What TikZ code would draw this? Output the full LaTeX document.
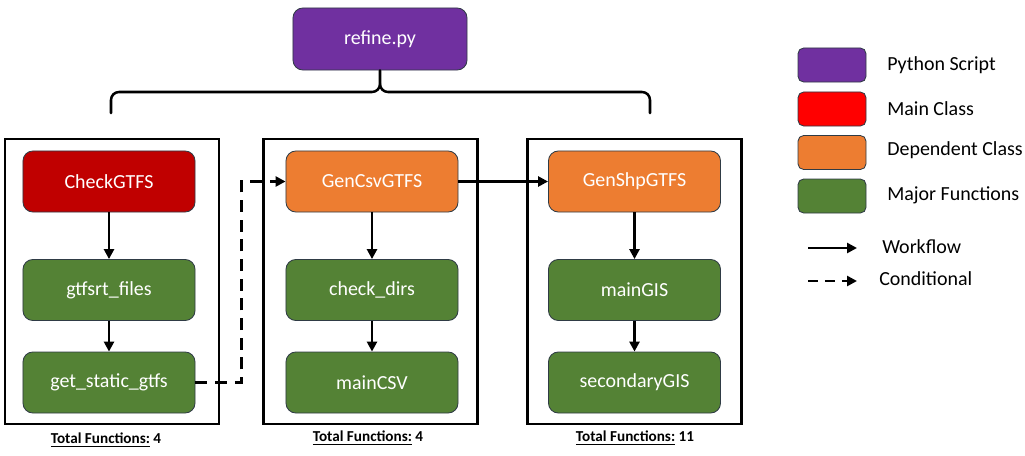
\documentclass[tikz,border=0pt]{standalone}
\usepackage{fontspec}
\setmainfont{Carlito}
\usetikzlibrary{arrows.meta,positioning}
\definecolor{pyviolet}{HTML}{7030A0}
\definecolor{mainred}{HTML}{C00000}
\definecolor{legred}{HTML}{FF0000}
\definecolor{deporange}{HTML}{ED7D31}
\definecolor{funcgreen}{HTML}{548235}
\definecolor{edgegrey}{HTML}{2F3B45}
\tikzset{
    block/.style={
    rectangle,rounded corners=7pt,draw=edgegrey,line width=0.6pt,text=white,
    minimum width=4.3cm,minimum height=1.525cm,font=\fontsize{14.2}{17}\selectfont
    },
    script/.style={block,fill=pyviolet,minimum width=4.35cm,minimum height=1.55cm},
    mainclass/.style={block,fill=mainred},
    depclass/.style={block,fill=deporange},
    func/.style={block,fill=funcgreen},
    legbox/.style={
    rectangle,rounded corners=4pt,draw=edgegrey,line width=0.6pt,
    minimum width=1.7cm,minimum height=0.85cm
    },
    legtext/.style={anchor=west,inner sep=0pt,font=\fontsize{14.2}{17}\selectfont},
    frame/.style={
    rectangle,draw=black,line width=1.6pt,minimum width=5.35cm,minimum height=7.125cm
    },
    total/.style={font=\fontsize{10.8}{13}\selectfont\bfseries},
    flow/.style={draw=black,line width=2pt,-{Triangle[length=7pt,width=7pt]}},
    cond/.style={flow,dash pattern=on 8.5pt off 5.5pt},
    brace/.style={line width=1.8pt,line cap=round,line join=round},
}
\begin{document}
\begin{tikzpicture}[x=0.025cm,y=-0.025cm]
  \useasboundingbox (0,0) rectangle (1025,455);

  \node[script] (refine) at (380,39) {refine.py};

  \node[frame] (frameA) at (112,281.5) {};
  \node[frame] (frameB) at (370.5,281.5) {};
  \node[frame] (frameC) at (634.5,281.5) {};

  \node[mainclass] (checkgtfs) at (109,181.5) {CheckGTFS};
  \node[func] (gtfsrt) at (109,290) {gtfsrt\_files};
  \node[func] (getstatic) at (109,382.5) {get\_static\_gtfs};

  \node[depclass] (gencsv) at (372,181.5) {GenCsvGTFS};
  \node[func] (checkdirs) at (372,290) {check\_dirs};
  \node[func] (maincsv) at (372,382.5) {mainCSV};

  \node[depclass] (genshp) at (634.5,181.5) {GenShpGTFS};
  \node[func] (maingis) at (634.5,290) {mainGIS};
  \node[func] (secgis) at (634.5,382.5) {secondaryGIS};

  \node[total] (totalA) at (106,440) {\underline{Total Functions:} 4};
  \node[total] (totalB) at (368,438) {\underline{Total Functions:} 4};
  \node[total] (totalC) at (635,438) {\underline{Total Functions:} 11};

  % brace under the script
  \coordinate (braceL) at (111,113);
  \coordinate (braceR) at (650,113);
  \draw[brace] (braceL) -- (111,100) to[out=90,in=180] (119,92) -- (372,92)
    to[out=0,in=-90] (380,84) -- (refine.south);
  \draw[brace] (braceR) -- (650,100) to[out=90,in=0] (642,92) -- (388,92)
    to[out=180,in=-90] (380,84);

  \path
    (checkgtfs) edge [flow] (gtfsrt)
    (gtfsrt)    edge [flow] (getstatic)
    (gencsv)    edge [flow] (checkdirs)
                edge [flow] (genshp)
    (checkdirs) edge [flow] (maincsv)
    (genshp)    edge [flow] (maingis)
    (maingis)   edge [flow] (secgis);
  \draw[cond] (getstatic.east) -- ++(46,0) |- (gencsv.west);

  % legend
  \node[legbox,fill=pyviolet] (lgpy) at (832,65) {};
  \node[legbox,fill=legred] (lgmain) at (832,109) {};
  \node[legbox,fill=deporange] (lgdep) at (832,152.5) {};
  \node[legbox,fill=funcgreen] (lgfunc) at (832,196) {};
  \node[legtext] (txpy) at (887,65) {Python Script};
  \node[legtext] (txmain) at (887,109) {Main Class};
  \node[legtext] (txdep) at (887,150) {Dependent Class};
  \node[legtext] (txfunc) at (887,195) {Major Functions};

  \coordinate (wfa) at (808,248);
  \coordinate (wfb) at (857,248);
  \coordinate (cda) at (808,281);
  \coordinate (cdb) at (857,281);
  \draw[flow] (wfa) -- (wfb);
  \draw[cond,dash pattern=on 7pt off 5pt] (cda) -- (cdb);
  \node[legtext] (txwf) at (882,247) {Workflow};
  \node[legtext] (txcd) at (879,279) {Conditional};
\end{tikzpicture}
\end{document}
